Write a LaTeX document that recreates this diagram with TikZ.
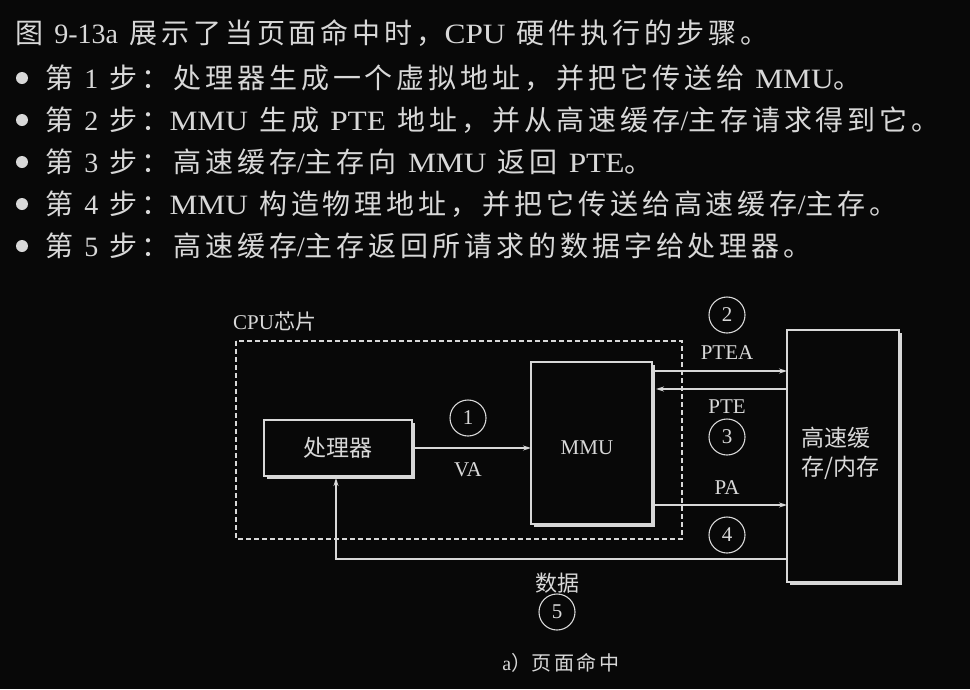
\documentclass[tikz,border=0pt]{standalone}
\usepackage{fontspec}
\setmainfont{Liberation Serif}
\newfontfamily\bodyfont[WordSpace=1.6]{Liberation Serif}
\newfontfamily\cjk[LetterSpace=14]{Noto Sans CJK SC}
\newfontfamily\cjkplain{Noto Sans CJK SC}
\newfontfamily\capsfont[FakeStretch=1.12, WordSpace=1.6]{Liberation Serif}
\usetikzlibrary{arrows.meta}
\definecolor{bg}{HTML}{080808}
\definecolor{ink}{HTML}{D8D8D8}
\newcommand\zh[1]{{\cjk #1}}
\newcommand\zp[1]{{\cjkplain #1}}
\newcommand\cw[1]{{\capsfont #1}}
\begin{document}
\begin{tikzpicture}[x=1pt, y=-1pt,
  every node/.style={text=ink, inner sep=0pt},
  bodytext/.style={anchor=west, font=\bodyfont\fontsize{28}{34}\selectfont},
  label/.style={font=\fontsize{21}{24}\selectfont},
  block/.style={draw=ink, line width=1.4pt},
  shade/.style={draw=ink, line width=1.6pt},
  wire/.style={draw=ink, line width=1.2pt},
  flow/.style={wire, -{Stealth[length=8pt,width=5pt]}},
  stepno/.style={circle, draw=ink, line width=1.1pt, minimum size=36pt,
    font=\fontsize{21}{24}\selectfont}]
% page background and size
\fill[bg] (0,0) rectangle (970,689);
\useasboundingbox (0,0) rectangle (970,689);

% running text
\node[bodytext] (intro) at (15,33) {\zh{图} 9-13a \zh{展示了当页面命中时，}\cw{CPU} \zh{硬件执行的步骤。}};
\foreach \yy in {78,120,162,204,246} \fill[ink] (22,\yy) circle[radius=6];
\node[bodytext] (s1) at (45,78) {\zh{第} 1 \zh{步：处理器生成一个虚拟地址，并把它传送给} \cw{MMU}\zh{。}};
\node[bodytext] (s2) at (45,120) {\zh{第} 2 \zh{步：}\cw{MMU} \zh{生成} \cw{PTE} \zh{地址，并从高速缓存}/\zh{主存请求得到它。}};
\node[bodytext] (s3) at (45,162) {\zh{第} 3 \zh{步：高速缓存}/\zh{主存向} \cw{MMU} \zh{返回} \cw{PTE}\zh{。}};
\node[bodytext] (s4) at (45,204) {\zh{第} 4 \zh{步：}\cw{MMU} \zh{构造物理地址，并把它传送给高速缓存}/\zh{主存。}};
\node[bodytext] (s5) at (45,246) {\zh{第} 5 \zh{步：高速缓存}/\zh{主存返回所请求的数据字给处理器。}};

% CPU chip boundary
\draw[ink, line width=1.2pt, dash pattern=on 5pt off 3pt] (236,341) rectangle (682,539);
\node[anchor=west, font=\fontsize{21}{24}\selectfont] (chip) at (233,322) {CPU\zp{芯片}};

% processor
\draw[block] (264,420) rectangle (412,476);
\draw[shade] (414,423) -- (414,478) -- (267,478);
\node[font=\fontsize{23}{26}\selectfont] (cpu) at (338,448) {\zp{处理器}};
\coordinate (cpuR) at (412,448);
\coordinate (cpuB) at (336,478);

% MMU
\draw[block] (531,362) rectangle (652,524);
\draw[shade] (654,365) -- (654,526) -- (534,526);
\node[label] (mmu) at (587,448) {MMU};
\coordinate (mmuL) at (531,448);

% cache / memory
\draw[block] (787,330) rectangle (899,582);
\draw[shade] (901,333) -- (901,584) -- (790,584);
\node[anchor=west, font=\fontsize{23}{29}\selectfont, align=left] (mem) at (801,453) {\zp{高速缓}\\\zp{存/内存}};

% step 1: virtual address
\draw[flow] (cpuR) -- (mmuL);
\node[stepno] (n1) at (468,418) {1};
\node[label] (va) at (468,470) {VA};

% step 2: PTE address
\draw[flow] (654,371) -- (787,371);
\node[stepno] (n2) at (727,315) {2};
\node[label] (ptea) at (727,353) {PTEA};

% step 3: PTE
\draw[flow] (787,389) -- (656,389);
\node[label] (pte) at (727,407) {PTE};
\node[stepno] (n3) at (727,437) {3};

% step 4: physical address
\node[label] (pa) at (727,488) {PA};
\draw[flow] (654,505) -- (787,505);
\node[stepno] (n4) at (727,535) {4};

% step 5: data word back to the processor
\draw[flow] (787,559) -- (336,559) -- (cpuB);
\node[font=\fontsize{22}{24}\selectfont] (data) at (557,583) {\zp{数据}};
\node[stepno] (n5) at (557,612) {5};

% caption
\node[font=\fontsize{20}{24}\selectfont] (cap) at (561,663) {a\zp{）}\zh{页面命中}};
\end{tikzpicture}
\end{document}
